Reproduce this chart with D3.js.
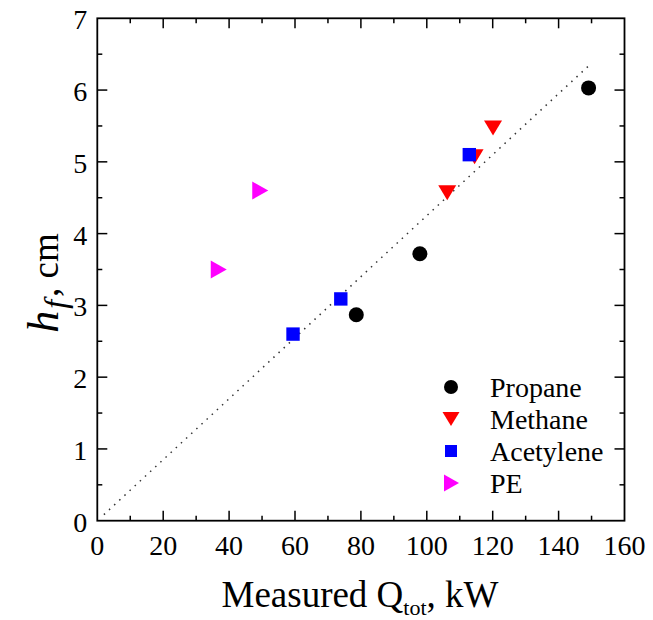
<!DOCTYPE html>
<html><head><meta charset="utf-8">
<script src="https://cdn.jsdelivr.net/npm/d3@7"></script>
<style>body{margin:0;background:#fff}</style>
</head><body>
<script>
const seriesNames = ["Propane", "Methane", "Acetylene", "PE"];
const propaneX = [78.6, 97.9, 149.1];
const propaneY = [2.87, 3.72, 6.03];
const methaneX = [106.2, 114.5, 120.1];
const methaneY = [4.57, 5.07, 5.47];
const acetyleneX = [59.4, 73.9, 112.9];
const acetyleneY = [2.60, 3.09, 5.10];
const peX = [36.7, 49.3];
const peY = [3.50, 4.60];
const fitX = [2, 150];
const fitY = [0.085, 6.375];
const xTicks = [0, 20, 40, 60, 80, 100, 120, 140, 160];
const yTicks = [0, 1, 2, 3, 4, 5, 6, 7];

const W = 653, H = 620;
const FONT = '"Liberation Serif"';
const m = {left: 97.3, right: 653 - 624.5, top: 18.3, bottom: 620 - 520.7};
const svg = d3.select("body").append("svg").attr("width", W).attr("height", H);
const x = d3.scaleLinear().domain([0, 160]).range([m.left, W - m.right]);
const y = d3.scaleLinear().domain([0, 7]).range([H - m.bottom, m.top]);

// ticks (inward, all four sides)
const g = svg.append("g").attr("stroke", "#000").attr("stroke-width", 1.5);
const xMinor = d3.range(10, 160, 20);
const yMinor = d3.range(0.5, 7, 1);
xTicks.slice(1, -1).forEach(v => {
  g.append("line").attr("x1", x(v)).attr("x2", x(v)).attr("y1", y(0)).attr("y2", y(0) - 10);
  g.append("line").attr("x1", x(v)).attr("x2", x(v)).attr("y1", y(7)).attr("y2", y(7) + 10);
});
xMinor.forEach(v => {
  g.append("line").attr("x1", x(v)).attr("x2", x(v)).attr("y1", y(0)).attr("y2", y(0) - 5);
  g.append("line").attr("x1", x(v)).attr("x2", x(v)).attr("y1", y(7)).attr("y2", y(7) + 5);
});
yTicks.slice(1, -1).forEach(v => {
  g.append("line").attr("x1", x(0)).attr("x2", x(0) + 10).attr("y1", y(v)).attr("y2", y(v));
  g.append("line").attr("x1", x(160)).attr("x2", x(160) - 10).attr("y1", y(v)).attr("y2", y(v));
});
yMinor.forEach(v => {
  g.append("line").attr("x1", x(0)).attr("x2", x(0) + 5).attr("y1", y(v)).attr("y2", y(v));
  g.append("line").attr("x1", x(160)).attr("x2", x(160) - 5).attr("y1", y(v)).attr("y2", y(v));
});
svg.append("rect").attr("x", x(0)).attr("y", y(7)).attr("width", x(160) - x(0)).attr("height", y(0) - y(7))
  .attr("fill", "none").attr("stroke", "#000").attr("stroke-width", 1.8);

// tick labels
svg.append("g").selectAll("text").data(xTicks).join("text")
  .attr("x", d => x(d)).attr("y", y(0) + 34.5).attr("text-anchor", "middle")
  .style("font-family", FONT).attr("font-size", 28).text(d => d);
svg.append("g").selectAll("text").data(yTicks).join("text")
  .attr("x", x(0) - 10).attr("y", d => y(d) + 11).attr("text-anchor", "end")
  .style("font-family", FONT).attr("font-size", 28).text(d => d);

// axis titles
const xt = svg.append("text").attr("x", 360).attr("y", 607).attr("text-anchor", "middle")
  .style("font-family", FONT).attr("font-size", 37);
xt.append("tspan").text("Measured Q");
xt.append("tspan").attr("font-size", 22).attr("dy", 8).text("tot");
xt.append("tspan").attr("dy", -8).text(", kW");

const yt = svg.append("text").attr("transform", "translate(58,283) rotate(-90)").attr("text-anchor", "middle")
  .style("font-family", FONT).attr("font-size", 37);
yt.append("tspan").attr("font-style", "italic").attr("font-size", 44).text("h");
yt.append("tspan").attr("font-style", "italic").attr("font-size", 32).attr("dy", 8).attr("dx", 2).text("f");
yt.append("tspan").attr("dy", -8).attr("dx", 3).text(", cm");

// fit line
svg.append("path").datum(fitX.map((v, i) => [v, fitY[i]]))
  .attr("d", d3.line().x(d => x(d[0])).y(d => y(d[1])))
  .attr("fill", "none").attr("stroke", "#333").attr("stroke-width", 1.5).attr("stroke-dasharray", "1.5,5.5");

// markers
const circleSym = d3.symbol().type(d3.symbolCircle).size(Math.PI * 7.5 * 7.5);
function downTri(sel) { sel.attr("d", "M-9,-7.5L9,-7.5L0,7.5Z"); }
function rightTri(sel) { sel.attr("d", "M-7.5,-9L8.5,0L-7.5,9Z"); }
function square(sel) { sel.attr("d", "M-6.7,-6.7H6.7V6.7H-6.7Z"); }

const pts = svg.append("g");
pts.selectAll(".pr").data(propaneX.map((v, i) => [v, propaneY[i]])).join("path")
  .attr("transform", d => `translate(${x(d[0])},${y(d[1])})`).attr("d", circleSym).attr("fill", "#000");
pts.selectAll(".me").data(methaneX.map((v, i) => [v, methaneY[i]])).join("path").attr("class", "me")
  .attr("transform", d => `translate(${x(d[0])},${y(d[1])})`).call(downTri).attr("fill", "#ff0000");
pts.selectAll(".ac").data(acetyleneX.map((v, i) => [v, acetyleneY[i]])).join("path").attr("class", "ac")
  .attr("transform", d => `translate(${x(d[0])},${y(d[1])})`).call(square).attr("fill", "#0000ff");
pts.selectAll(".pe").data(peX.map((v, i) => [v, peY[i]])).join("path").attr("class", "pe")
  .attr("transform", d => `translate(${x(d[0])},${y(d[1])})`).call(rightTri).attr("fill", "#ff00ff");

// legend
const leg = svg.append("g").attr("transform", "translate(451,387)");
const legFns = [
  s => s.attr("d", d3.symbol().type(d3.symbolCircle).size(Math.PI * 7 * 7)).attr("fill", "#000"),
  s => s.attr("d", "M-8.5,-7L8.5,-7L0,7Z").attr("fill", "#ff0000"),
  s => s.attr("d", "M-6,-6H6V6H-6Z").attr("fill", "#0000ff"),
  s => s.attr("d", "M-7,-8.5L8,0L-7,8.5Z").attr("fill", "#ff00ff")
];
seriesNames.forEach((name, i) => {
  const row = leg.append("g").attr("transform", `translate(0,${i * 32})`);
  row.append("path").call(legFns[i]);
  row.append("text").attr("x", 39).attr("y", 9.5).style("font-family", FONT).attr("font-size", 28).text(name);
});
</script>
</body></html>
